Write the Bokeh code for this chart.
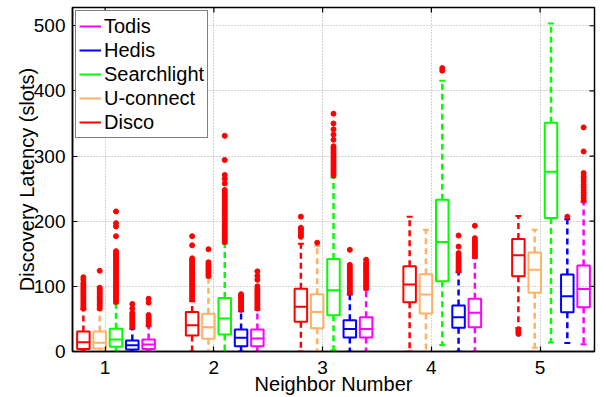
from bokeh.plotting import figure
from bokeh.models import Range1d, FixedTicker, Legend, LegendItem, ColumnDataSource
from bokeh.embed import file_html
from bokeh.resources import INLINE

# ---------------- data ----------------
groups = [1, 2, 3, 4, 5]
series = ["Disco", "U-connect", "Searchlight", "Hedis", "Todis"]
colors = ["#FF0000", "#FFB266", "#00FF00", "#0000FF", "#FF00FF"]
y_ticks = [0, 100, 200, 300, 400, 500]

disco_q1 = [4, 24.5, 45.5, 75.5, 115.4]
disco_med = [14.3, 40.3, 68.5, 102.7, 147.6]
disco_q3 = [30.6, 60.8, 96.5, 130.7, 172.7]
disco_lo = [0, 0, 0, 0, 36]
disco_hi = [65, 77, 165.5, 207, 208]
disco_out = [
    [66, 69, 72, 75, 78, 81, 84, 87, 90, 93, 96, 99, 102, 105, 110, 114],
    [80, 83, 86, 89, 92, 95, 98, 101, 104, 107, 110, 113, 116, 119, 122, 125,
     128, 131, 134, 137, 140, 143, 163, 177],
    [176, 179, 182, 185, 188, 190, 207],
    [],
    [27, 30, 33],
]

uconnect_q1 = [4.6, 19.4, 35.7, 58.2, 90]
uconnect_med = [13.3, 37.3, 60.8, 87.3, 125.6]
uconnect_q3 = [30.6, 57.8, 87.8, 118.5, 152]
uconnect_lo = [0, 0, 0, 0, 5.6]
uconnect_hi = [64, 113, 162, 187, 187]
uconnect_out = [
    [66, 69, 72, 75, 78, 81, 84, 87, 90, 93, 96, 98, 124],
    [116, 119, 122, 125, 128, 131, 134, 137, 157],
    [167],
    [],
    [],
]

searchlight_q1 = [7.2, 26, 55.6, 107.8, 205]
searchlight_med = [18.4, 50.6, 94, 168, 276]
searchlight_q3 = [34.8, 82.3, 142, 233, 351]
searchlight_lo = [0, 0, 2, 10, 14]
searchlight_hi = [73.5, 165.5, 267, 415.7, 503.6]
searchlight_out = [
    [76, 79, 82, 85, 88, 91, 94, 97, 100, 103, 106, 109, 112, 115, 118, 121,
     124, 127, 130, 133, 136, 139, 142, 145, 148, 151, 154, 177, 192, 197, 215],
    [168, 171, 174, 177, 180, 183, 186, 189, 192, 195, 198, 201, 204, 207, 210,
     213, 216, 219, 222, 225, 228, 231, 234, 237, 240, 244, 248, 258, 265, 271,
     294, 331],
    [270, 273, 276, 279, 282, 285, 288, 291, 294, 297, 300, 303, 306, 309, 312,
     315, 325, 333, 341, 350, 365],
    [431, 435],
    [],
]

hedis_q1 = [3, 8.1, 21.5, 36.3, 60.3]
hedis_med = [9.7, 21, 34.7, 52.6, 84.8]
hedis_q3 = [16.9, 33.7, 48, 70.5, 118]
hedis_lo = [0, 0, 0, 0, 13]
hedis_hi = [35, 61.8, 87.3, 121.5, 203]
hedis_out = [
    [38, 41, 44, 47, 50, 53, 56, 59, 66, 73],
    [64, 67, 70, 73, 76, 79, 82, 85, 88],
    [90, 93, 96, 99, 102, 105, 108, 111, 114, 117, 120, 123, 126, 129, 133, 156],
    [124, 127, 130, 133, 136, 139, 142, 145, 148, 151, 161, 178],
    [207],
]

todis_q1 = [4, 8.1, 21.5, 37.3, 68]
todis_med = [10.7, 20, 34.7, 59.3, 96]
todis_q3 = [18.4, 33.7, 52.6, 80.8, 132]
todis_lo = [0, 0, 0, 0, 11]
todis_hi = [38.8, 64, 95, 143.6, 229]
todis_out = [
    [41, 44, 47, 50, 53, 56, 75, 81],
    [66, 69, 72, 75, 78, 81, 84, 87, 90, 93, 96, 100, 110, 116, 123],
    [97, 100, 103, 106, 109, 112, 115, 118, 121, 124, 127, 130, 133, 136, 141],
    [146, 149, 152, 155, 158, 161, 164, 167, 170, 174, 193],
    [232, 236, 240, 244, 248, 252, 256, 261, 265, 269, 274, 307, 344],
]

stats = [
    (disco_q1, disco_med, disco_q3, disco_lo, disco_hi, disco_out),
    (uconnect_q1, uconnect_med, uconnect_q3, uconnect_lo, uconnect_hi, uconnect_out),
    (searchlight_q1, searchlight_med, searchlight_q3, searchlight_lo, searchlight_hi, searchlight_out),
    (hedis_q1, hedis_med, hedis_q3, hedis_lo, hedis_hi, hedis_out),
    (todis_q1, todis_med, todis_q3, todis_lo, todis_hi, todis_out),
]

# ---------------- layout constants ----------------
offsets = [-0.2, -0.05, 0.1, 0.25, 0.4]
box_w = 0.115
cap_w = 0.055
FONT = "Liberation Sans"

x_rng = Range1d(0.7, 5.5)
y_rng = Range1d(0, 528)

p = figure(width=606, height=397, output_backend="svg", toolbar_location=None,
           x_range=x_rng, y_range=y_rng,
           min_border_left=72, min_border_right=12, min_border_top=7, min_border_bottom=45)
p.background_fill_color = "white"
p.border_fill_color = "white"
p.outline_line_color = "black"
p.outline_line_width = 1.5

for ax, ticks in ((p.xaxis[0], groups), (p.yaxis[0], y_ticks)):
    ax.ticker = FixedTicker(ticks=ticks)
    ax.major_tick_in = 5
    ax.major_tick_out = 0
    ax.minor_tick_line_color = None
    ax.axis_line_width = 1.5
    ax.major_tick_line_width = 1.2
    ax.major_label_text_font = FONT
    ax.major_label_text_font_size = "19px"
    ax.major_label_text_color = "black"
    ax.axis_label_text_font = FONT
    ax.axis_label_text_font_size = "20px"
    ax.axis_label_text_font_style = "normal"
    ax.axis_label_text_color = "black"

p.xaxis.axis_label = "Neighbor Number"
p.yaxis.axis_label = "Discovery Latency (slots)"
p.xaxis.major_label_standoff = 9
p.xaxis.axis_label_standoff = -4
p.yaxis.major_label_standoff = 7
p.yaxis.axis_label_standoff = -7

# inward ticks on the top and right frame edges (MATLAB "box on")
tick_len_y = 5 * (y_rng.end - y_rng.start) / 345
tick_len_x = 5 * (x_rng.end - x_rng.start) / 522
p.segment(x0=groups, y0=[y_rng.end] * len(groups), x1=groups,
          y1=[y_rng.end - tick_len_y] * len(groups), line_color="black", line_width=1.2)
p.segment(x0=[x_rng.end] * len(y_ticks), y0=y_ticks, x1=[x_rng.end - tick_len_x] * len(y_ticks),
          y1=y_ticks, line_color="black", line_width=1.2)

p.xgrid.ticker = FixedTicker(ticks=groups)
p.ygrid.ticker = FixedTicker(ticks=y_ticks)
for g in (p.xgrid[0], p.ygrid[0]):
    g.grid_line_color = "#A8A8A8"
    g.grid_line_dash = "1 2"
    g.grid_line_width = 1

legend_renderers = {}
for i, (name, col) in enumerate(zip(series, colors)):
    q1, med, q3, lo, hi, outs = stats[i]
    xs = [g + offsets[i] for g in groups]
    src = ColumnDataSource(dict(
        x=xs, l=[x - box_w / 2 for x in xs], r=[x + box_w / 2 for x in xs],
        cl=[x - cap_w / 2 for x in xs], cr=[x + cap_w / 2 for x in xs],
        q1=q1, med=med, q3=q3, lo=lo, hi=hi))
    # whiskers
    p.segment(x0="x", y0="q3", x1="x", y1="hi", source=src, line_color=col,
              line_width=2.5, line_dash="6 4")
    p.segment(x0="x", y0="q1", x1="x", y1="lo", source=src, line_color=col,
              line_width=2.5, line_dash="6 4")
    # caps
    p.segment(x0="cl", y0="hi", x1="cr", y1="hi", source=src, line_color=col, line_width=2)
    p.segment(x0="cl", y0="lo", x1="cr", y1="lo", source=src, line_color=col, line_width=2)
    # box
    p.quad(left="l", right="r", bottom="q1", top="q3", source=src, fill_alpha=0,
           line_color=col, line_width=2)
    # median
    p.segment(x0="l", y0="med", x1="r", y1="med", source=src, line_color=col, line_width=2)
    # outliers
    ox, oy = [], []
    for x, vals in zip(xs, outs):
        for v in vals:
            ox.append(x)
            oy.append(v)
    p.scatter(ox, oy, marker="circle", size=5, fill_color="#FF0000", line_color="#FF0000")
    # legend proxy line (kept outside the visible ranges)
    legend_renderers[name] = p.line(x=[-10, -9], y=[-10, -10], line_color=col, line_width=2)

legend = Legend(items=[LegendItem(label=n, renderers=[legend_renderers[n]])
                       for n in ["Todis", "Hedis", "Searchlight", "U-connect", "Disco"]],
                location="top_left")
legend.margin = 3
legend.padding = 3
legend.spacing = 0
legend.label_height = 24
legend.glyph_height = 24
legend.glyph_width = 22
legend.label_standoff = 3
legend.label_text_font = FONT
legend.label_text_font_size = "20px"
legend.label_text_color = "black"
legend.border_line_color = "black"
legend.border_line_width = 1.5
legend.background_fill_alpha = 1
p.add_layout(legend)

p.grid.level = "underlay"

open("out.html", "w").write(file_html(p, INLINE))
